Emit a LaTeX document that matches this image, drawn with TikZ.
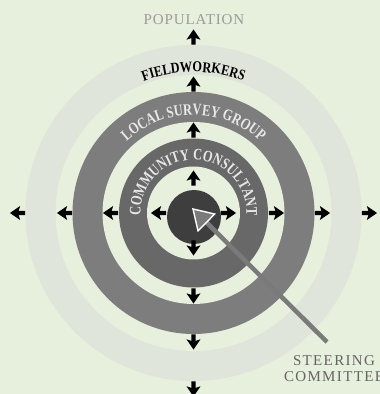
\documentclass[tikz,border=0pt]{standalone}
\usepackage{fontspec}
\setmainfont{Liberation Serif}
\newfontfamily\plainlabel[LetterSpace=6]{Liberation Serif}
\newfontfamily\steerfont[LetterSpace=9]{Liberation Serif}
\newfontfamily\ringfont[FakeStretch=0.78]{Liberation Serif}
\newfontfamily\fieldfont[FakeStretch=0.82]{Liberation Serif}
\usetikzlibrary{decorations.text}
\definecolor{bgc}{RGB}{230,240,220}
\definecolor{faintc}{RGB}{223,229,218}
\definecolor{lsgc}{RGB}{125,125,125}
\definecolor{ccc}{RGB}{104,104,104}
\definecolor{corec}{RGB}{62,62,62}
\definecolor{ringtxt}{RGB}{232,232,232}
\definecolor{pointerc}{RGB}{122,122,122}
\definecolor{poptxt}{RGB}{155,155,155}
\definecolor{steertxt}{RGB}{100,100,100}
\tikzset{
  darrow/.pic={\fill[black,scale=1.08] (-7,-1.9) -- (-1,-1.9) -- (-2.5,-6.5) -- (7,0) -- (-2.5,6.5) -- (-1,1.9) -- (-7,1.9) -- cycle;},
}
\begin{document}
\begin{tikzpicture}[x=1pt,y=1pt]
\useasboundingbox (0,0) rectangle (380,394);
\clip (0,0) rectangle (380,394);
\fill[bgc] (0,0) rectangle (380,394);
\coordinate (C) at (193.5,181);
\coordinate (D) at (194,177);
% rings
\fill[faintc] (C) circle[radius=168];
\fill[bgc] (C) circle[radius=138];
\fill[lsgc] (C) circle[radius=121];
\fill[bgc] (C) circle[radius=91];
\fill[ccc] (C) circle[radius=74.5];
\fill[bgc] (C) circle[radius=46.5];
\fill[corec] (D) circle[radius=27];
% curved texts
\path[decorate, decoration={text along path, text align=center, text color=black,
  text={|\fieldfont\bfseries\fontsize{15}{15}\selectfont|FIELDWORKERS}}]
  (C) ++(150:141) arc[start angle=150, end angle=30, radius=141];
\path[decorate, decoration={text along path, text align=center, text color=ringtxt,
  text={|\ringfont\bfseries\fontsize{16}{16}\selectfont|LOCAL SURVEY GROUP}}]
  (C) ++(165:98) arc[start angle=165, end angle=15, radius=98];
\path[decorate, decoration={text along path, text align=center, text color=ringtxt,
  text={|\ringfont\bfseries\fontsize{16}{16}\selectfont|COMMUNITY CONSULTANT}}]
  (C) ++(190:53) arc[start angle=190, end angle=-10, radius=53];
% direction arrows
\foreach \r in {35,83,129,176}{
  \foreach \a in {0,90,180,270}{
    \path (C) ++(\a:\r) pic[rotate=\a] {darrow};
  }
}
% labels
\node[font=\plainlabel\fontsize{15}{15}\selectfont, text=poptxt] (pop) at (194,374) {POPULATION};
\node[font=\steerfont\fontsize{15}{16}\selectfont, text=steertxt, align=center] (steer) at (334,25) {STEERING\\COMMITTEE};
% pointer
\coordinate (tail) at (327,52);
\coordinate (tip) at (193,185);
\coordinate (base) at (206.5,171.6);
\coordinate (hb1) at (214.6,180.0);
\coordinate (hb2) at (198.0,163.2);
\draw[pointerc, line width=4.5] (tail) -- (base);
\filldraw[fill=pointerc, draw=white, line width=1.4, line join=miter] (tip) -- (hb1) -- (base) -- (hb2) -- cycle;
\end{tikzpicture}
\end{document}
